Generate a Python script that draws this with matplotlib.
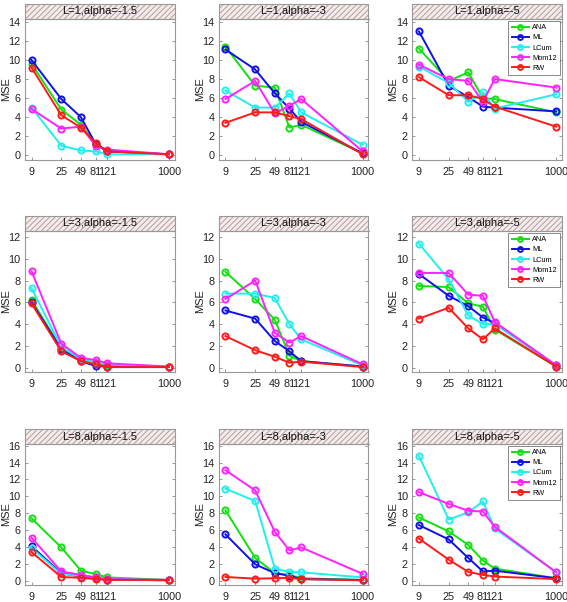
import matplotlib
matplotlib.use('Agg')
import matplotlib.pyplot as plt
from matplotlib.patches import Rectangle

plt.rcParams['font.family'] = ['Liberation Sans', 'DejaVu Sans']
plt.rcParams['hatch.color'] = '#efd2d2'
plt.rcParams['hatch.linewidth'] = 0.6

n_values = [9, 25, 49, 81, 121, 1000]
methods = ['ANA', 'ML', 'LCum', 'Mom12', 'RW']
colors = ['#11e011', '#1010e8', '#22eeee', '#ff22ff', '#ff1a1a']
L_values = [1, 3, 8]
alpha_values = ['-1.5', '-3', '-5']

# one list per method, in order of `methods`
mse_L1_a15 = [[9.6, 4.8, 3.2, 1.2, 0.4, 0.1],
              [10.0, 5.9, 4.0, 1.2, 0.4, 0.1],
              [5.0, 1.0, 0.5, 0.4, 0.1, 0.1],
              [4.85, 2.8, 3.0, 1.0, 0.6, 0.1],
              [9.2, 4.2, 2.9, 1.3, 0.4, 0.1]]
mse_L1_a3 = [[11.4, 7.3, 7.1, 2.9, 3.2, 0.2],
             [11.1, 9.0, 6.5, 4.9, 3.5, 0.2],
             [6.8, 5.0, 5.0, 6.5, 4.5, 1.1],
             [5.9, 7.8, 4.4, 5.2, 5.9, 0.4],
             [3.4, 4.5, 4.5, 4.1, 3.8, 0.1]]
mse_L1_a5 = [[11.2, 7.8, 8.7, 6.0, 5.9, 4.5],
             [13.0, 7.3, 6.1, 5.1, 5.0, 4.6],
             [9.3, 7.6, 5.6, 6.6, 4.9, 6.4],
             [9.5, 8.0, 7.8, 5.6, 8.0, 7.1],
             [8.2, 6.3, 6.3, 5.9, 5.1, 3.0]]
mse_L3_a15 = [[6.2, 1.8, 0.7, 0.4, 0.2, 0.05],
              [6.0, 1.7, 0.6, 0.15, 0.1, 0.05],
              [7.3, 1.9, 0.8, 0.5, 0.3, 0.1],
              [8.85, 2.2, 0.9, 0.7, 0.4, 0.1],
              [5.9, 1.5, 0.6, 0.3, 0.05, 0.05]]
mse_L3_a3 = [[8.8, 6.3, 4.4, 1.1, 0.6, 0.1],
             [5.25, 4.5, 2.45, 1.5, 0.6, 0.1],
             [6.8, 6.8, 6.4, 4.0, 2.6, 0.2],
             [6.3, 8.0, 3.2, 2.3, 2.9, 0.3],
             [2.9, 1.6, 1.0, 0.45, 0.55, 0.05]]
mse_L3_a5 = [[7.5, 7.4, 5.9, 5.6, 3.5, 0.1],
             [8.6, 6.6, 5.65, 4.6, 4.1, 0.2],
             [11.4, 8.1, 4.8, 4.0, 4.0, 0.2],
             [8.7, 8.7, 6.7, 6.6, 4.2, 0.2],
             [4.5, 5.5, 3.6, 2.6, 3.6, 0.1]]
mse_L8_a15 = [[7.4, 3.95, 1.2, 0.8, 0.4, 0.1],
              [4.1, 0.9, 0.5, 0.3, 0.15, 0.05],
              [3.9, 0.8, 0.6, 0.4, 0.2, 0.05],
              [5.1, 1.1, 0.7, 0.4, 0.2, 0.1],
              [3.4, 0.45, 0.35, 0.2, 0.1, 0.1]]
mse_L8_a3 = [[8.35, 2.7, 0.9, 0.7, 0.3, 0.1],
             [5.5, 1.95, 0.9, 0.6, 0.2, 0.1],
             [10.9, 9.45, 1.45, 1.05, 1.0, 0.4],
             [13.1, 10.7, 5.8, 3.6, 3.95, 0.82],
             [0.45, 0.25, 0.3, 0.35, 0.2, 0.05]]
mse_L8_a5 = [[7.5, 5.85, 4.25, 2.4, 1.45, 0.3],
             [6.6, 4.9, 2.7, 1.1, 1.2, 0.3],
             [14.8, 7.25, 8.1, 9.4, 6.2, 1.0],
             [10.5, 9.1, 8.3, 8.2, 6.4, 1.0],
             [5.0, 2.5, 1.05, 0.7, 0.5, 0.2]]

mse = [[mse_L1_a15, mse_L1_a3, mse_L1_a5],
       [mse_L3_a15, mse_L3_a3, mse_L3_a5],
       [mse_L8_a15, mse_L8_a3, mse_L8_a5]]

row_ylim = [(-0.5, 14.3), (-0.4, 12.55), (-0.5, 16.2)]
row_yticks = [range(0, 15, 2), range(0, 13, 2), range(0, 17, 2)]

W, H = 567, 602
fig = plt.figure(figsize=(W / 100, H / 100), dpi=100)

col_left = [24.6, 218.5, 412]
row_top = [19, 231, 444]
ax_w, ax_h = 150, 141
strip_h = 15

for r in range(3):
    for c in range(3):
        ax = fig.add_axes([col_left[c] / W, 1 - (row_top[r] + ax_h) / H, ax_w / W, ax_h / H])
        for k, m in enumerate(methods):
            ax.plot(n_values, mse[r][c][k], '-o', color=colors[k], lw=1.4,
                    ms=4.4, mfc='none', mew=1.4, label=m)
        ax.set_xscale('log')
        ax.set_xlim(7.1, 1220)
        ax.set_xticks(n_values)
        ax.set_xticklabels([str(v) for v in n_values])
        ax.minorticks_off()
        ax.set_ylim(*row_ylim[r])
        ax.set_yticks(list(row_yticks[r]))
        ax.tick_params(direction='in', length=2, width=0.6, color='#888888',
                       labelsize=7.8, labelcolor='#222222', right=True, pad=3)
        ax.tick_params(axis='x', pad=5)
        for s in ax.spines.values():
            s.set_color('#999999')
            s.set_linewidth(0.8)
        ax.set_ylabel('MSE', fontsize=8, color='#222222')
        ax.yaxis.set_label_coords(-0.09, 0.5)
        # facet strip above the plot area
        sh = strip_h / ax_h
        ax.add_patch(Rectangle((0, 1), 1, sh, transform=ax.transAxes, clip_on=False,
                               facecolor='#f9e9e9', edgecolor='#999999', lw=0.8,
                               hatch='//////'))
        ax.text(0.5, 1 + sh / 2, 'L=%d,alpha=%s' % (L_values[r], alpha_values[c]),
                transform=ax.transAxes, ha='center', va='center', fontsize=8,
                color='#111111')
        if c == 2:
            leg = ax.legend(loc='upper right', fontsize=5.3, frameon=True, fancybox=False,
                            handlelength=2.4, handletextpad=0.4, borderpad=0.45,
                            labelspacing=0.4, borderaxespad=0.25, markerscale=0.8)
            leg.get_frame().set_edgecolor('#555555')
            leg.get_frame().set_linewidth(0.6)

fig.savefig('out.png', dpi=100)
